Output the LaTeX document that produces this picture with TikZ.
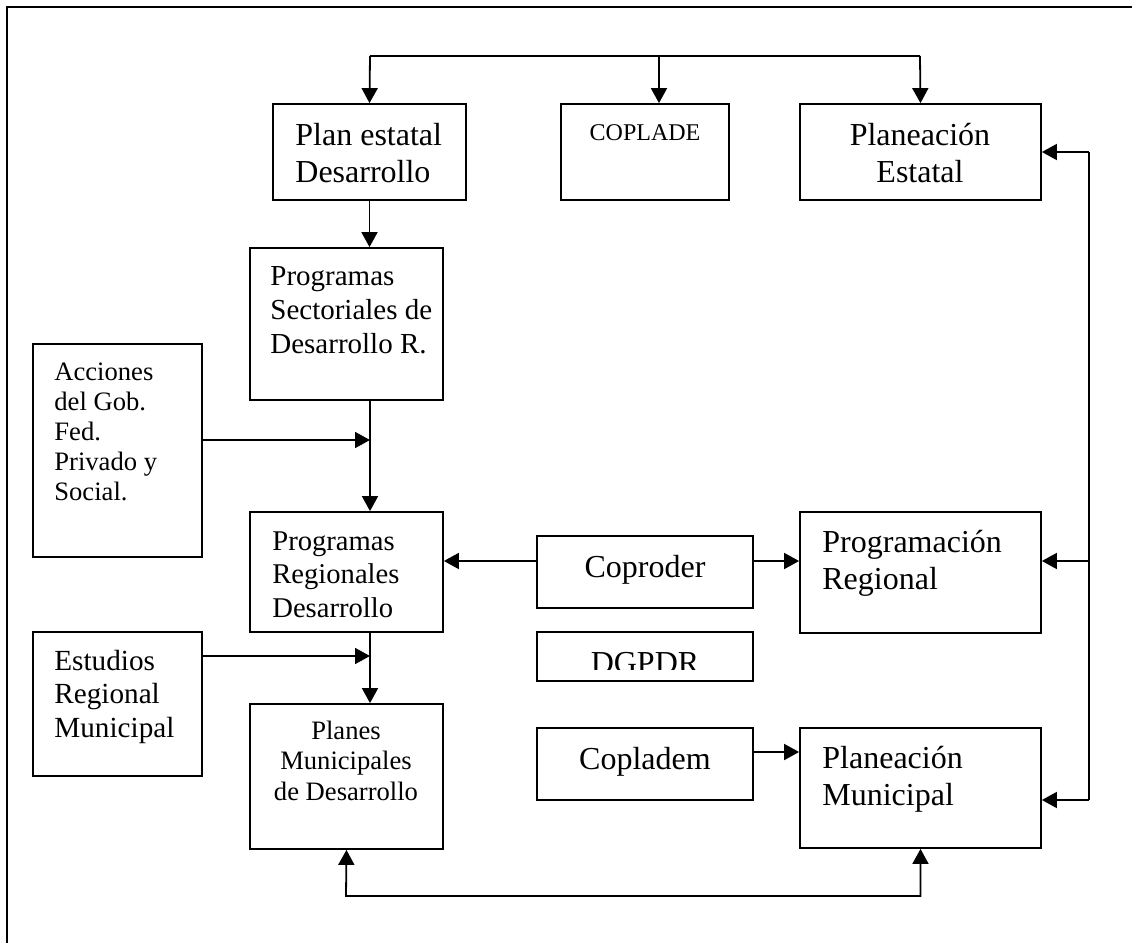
\documentclass[tikz,border=0pt]{standalone}
\usepackage{fontspec}
\setmainfont{Liberation Serif}
\usetikzlibrary{arrows.meta,fit}
\newcommand\setfs[2]{\fontsize{#1}{#2}\selectfont}
\begin{document}
\begin{tikzpicture}[x=0.5pt,y=-0.5pt,
  box/.style={draw,line width=0.9pt,inner sep=0pt},
  ln/.style={line width=0.9pt},
  arr/.style={line width=0.9pt,-{Triangle[length=7.5pt,width=8pt]}},
  arrb/.style={line width=0.9pt,{Triangle[length=7.5pt,width=8pt]}-{Triangle[length=7.5pt,width=8pt]}},
  txt/.style={inner sep=0pt,anchor=base west},
  ctxt/.style={inner sep=0pt,anchor=base}]
\useasboundingbox (0,0) rectangle (1132,943);
% frame
\draw[line width=1pt] (7,943) -- (7,7) -- (1132,7);
% boxes
\node[box,fit={(273,104) (466,200)}] (pe) {};
\node[box,fit={(561,104) (729,200)}] (cop) {};
\node[box,fit={(800,104) (1041,200)}] (pest) {};
\node[box,fit={(250,248) (443,400)}] (sec) {};
\node[box,fit={(33,344) (202,557)}] (acc) {};
\node[box,fit={(250,512) (443,632)}] (reg) {};
\node[box,fit={(537,536) (753,608)}] (copr) {};
\node[box,fit={(800,512) (1041,633)}] (preg) {};
\node[box,fit={(537,632) (753,681)}] (dg) {};
\node[box,fit={(33,632) (202,776)}] (est) {};
\node[box,fit={(250,704) (443,849)}] (pmd) {};
\node[box,fit={(537,728) (753,800)}] (cpm) {};
\node[box,fit={(800,728) (1041,848)}] (pmun) {};
% texts
\node[txt] (tpe) at (295,145) {\setfs{16}{18.5}\begin{tabular}[t]{@{}l@{}}Plan estatal\\Desarrollo\end{tabular}};
\node[ctxt] (tcop) at (645,140) {\setfs{12}{14}COPLADE};
\node[ctxt] (tpest) at (920,145) {\setfs{16}{18.5}\begin{tabular}[t]{@{}c@{}}Planeación\\Estatal\end{tabular}};
\node[txt] (tsec) at (270,285) {\setfs{14.5}{17}\begin{tabular}[t]{@{}l@{}}Programas\\Sectoriales de\\Desarrollo R.\end{tabular}};
\node[txt] (tacc) at (54,380) {\setfs{13.3}{15}\begin{tabular}[t]{@{}l@{}}Acciones\\del Gob.\\Fed.\\Privado y\\Social.\end{tabular}};
\node[txt] (treg) at (272,550) {\setfs{14.3}{16.75}\begin{tabular}[t]{@{}l@{}}Programas\\Regionales\\Desarrollo\end{tabular}};
\node[ctxt] (tcopr) at (645,577) {\setfs{16}{18.5}Coproder};
\node[txt] (tpreg) at (822,552) {\setfs{16}{18.5}\begin{tabular}[t]{@{}l@{}}Programación\\Regional\end{tabular}};
\begin{scope}
\clip (537,632) rectangle (753,669);
\node[ctxt] (tdg) at (645,673) {\setfs{16}{18.5}DGPDR};
\end{scope}
\node[txt] (test) at (54,670) {\setfs{14.6}{16.75}\begin{tabular}[t]{@{}l@{}}Estudios\\Regional\\Municipal\end{tabular}};
\node[ctxt] (tpmd) at (346,739) {\setfs{13.3}{15.25}\begin{tabular}[t]{@{}c@{}}Planes\\Municipales\\de Desarrollo\end{tabular}};
\node[ctxt] (tcpm) at (645,769) {\setfs{16}{18.5}Copladem};
\node[txt] (tpmun) at (822,768) {\setfs{16}{18.5}\begin{tabular}[t]{@{}l@{}}Planeación\\Municipal\end{tabular}};
% coordinates
\coordinate (b1) at (370,56);
\coordinate (b2) at (659,56);
\coordinate (b3) at (920,56);
\coordinate (ra) at (1089,152);
\coordinate (rb) at (1089,561);
\coordinate (rc) at (1089,800);
\coordinate (j1) at (370,440);
\coordinate (j2) at (370,656);
\coordinate (bb) at (346,896);
% connectors
\draw[ln] (b1) -- (b3);
\draw[arr] (b1) -- (pe.north);
\draw[arr] (b2) -- (b2 |- cop.north);
\draw[arr] (b3) -- (pest.north);
\draw[arr] (pe.south) -- (pe.south |- sec.north);
\draw[arr] (j1 |- sec.south) -- (j1 |- reg.north);
\draw[arr] (acc.east |- j1) -- (j1);
\draw[arr] (j2 |- reg.south) -- (j2 |- pmd.north);
\draw[arr] (est.east |- j2) -- (j2);
\draw[arr] (copr.west |- rb) -- (reg.east |- rb);
\draw[arr] (copr.east |- rb) -- (preg.west |- rb);
\draw[arr] (cpm.east |- 0,752) -- (pmun.west |- 0,752);
\draw[ln] (ra) -- (rc);
\draw[arr] (ra) -- (pest.east |- ra);
\draw[arr] (rb) -- (preg.east |- rb);
\draw[arr] (rc) -- (pmun.east |- rc);
\draw[arrb] (pmd.south) -- (bb) -| (pmun.south);
\end{tikzpicture}
\end{document}
